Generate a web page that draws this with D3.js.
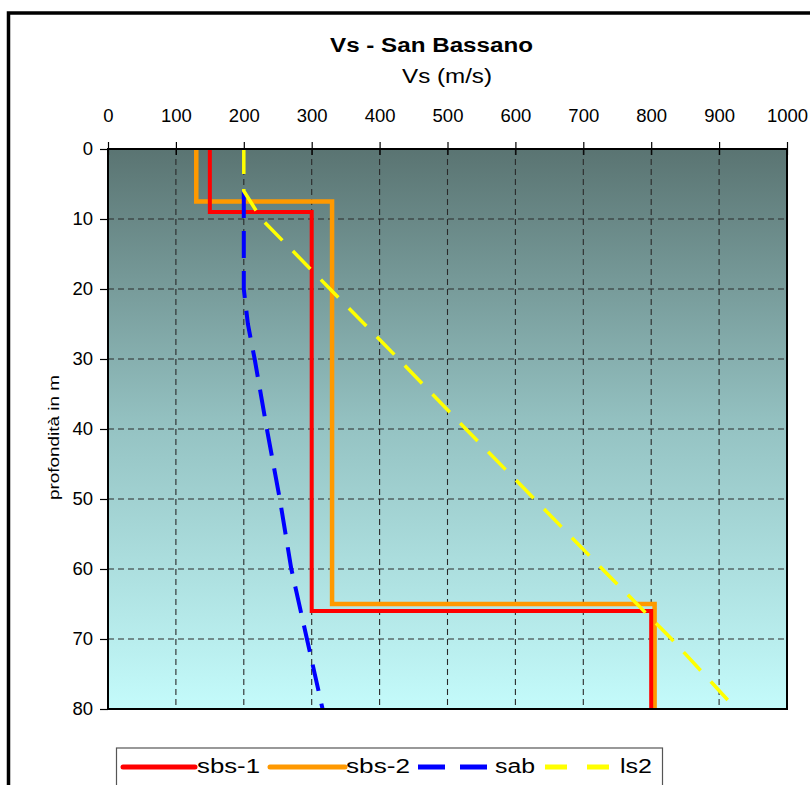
<!DOCTYPE html>
<html>
<head>
<meta charset="utf-8">
<script src="https://cdn.jsdelivr.net/npm/d3@7"></script>
<style>
  html, body { margin: 0; padding: 0; background: #ffffff; }
  svg { display: block; }
  text { font-family: "Liberation Sans", Arial, sans-serif; }
</style>
</head>
<body>
<svg id="chart" width="810" height="785"></svg>
<script>
// ---- data ----
const xTicks = [0, 100, 200, 300, 400, 500, 600, 700, 800, 900, 1000];
const yTicks = [0, 10, 20, 30, 40, 50, 60, 70, 80];

const sbs1Depth = [0, 9, 9, 66, 66, 80];
const sbs1Vs    = [150, 150, 300, 300, 800, 800];

const sbs2Depth = [0, 7.5, 7.5, 65, 65, 80];
const sbs2Vs    = [130, 130, 330, 330, 805, 805];

const sabDepth = [6, 20, 25, 30, 40, 50, 60, 70, 80];
const sabVs    = [200, 200, 206, 216, 234, 253, 270, 293, 316];

const ls2Depth = [0, 6, 10, 20, 30, 40, 50, 60, 70, 80];
const ls2Vs    = [200, 200, 226, 327, 428, 527, 628, 728, 830, 925];

const seriesNames = ["sbs-1", "sbs-2", "sab", "ls2"];

// ---- layout ----
const svg = d3.select("#chart");
const L = 108, R = 787, T = 149, B = 709;
const x = d3.scaleLinear().domain([0, 1000]).range([L, R]);
const y = d3.scaleLinear().domain([0, 80]).range([T, B]);

// outer frame
svg.append("rect").attr("x", 8.5).attr("y", 13).attr("width", 900).attr("height", 900)
  .attr("fill", "none").attr("stroke", "#000").attr("stroke-width", 3.5);

// gradient
const defs = svg.append("defs");
const grad = defs.append("linearGradient").attr("id", "bg").attr("x1", 0).attr("y1", 0).attr("x2", 0).attr("y2", 1);
grad.append("stop").attr("offset", "0%").attr("stop-color", "#5a7472");
grad.append("stop").attr("offset", "50%").attr("stop-color", "#95c3c3");
grad.append("stop").attr("offset", "100%").attr("stop-color", "#c4fbfb");

svg.append("rect").attr("x", L).attr("y", T).attr("width", R - L).attr("height", B - T)
  .attr("fill", "url(#bg)");

// grid
const grid = svg.append("g").attr("stroke", "#2a2a2a").attr("stroke-width", 1.1).attr("stroke-dasharray", "6,4");
grid.selectAll("line.v").data(xTicks.slice(1, -1)).join("line")
  .attr("x1", d => x(d)).attr("x2", d => x(d)).attr("y1", T).attr("y2", B);
grid.selectAll("line.h").data(yTicks.slice(1, -1)).join("line")
  .attr("x1", L).attr("x2", R).attr("y1", d => y(d)).attr("y2", d => y(d));

// axes
const topAxis = svg.append("g").attr("transform", `translate(0,${T})`)
  .call(d3.axisTop(x).tickValues(xTicks).tickSize(7).tickPadding(20).tickFormat(d3.format("d")));
const topInner = svg.append("g").attr("transform", `translate(0,${T})`)
  .call(d3.axisTop(x).tickValues(xTicks).tickSize(-6).tickFormat(""));
const leftAxis = svg.append("g").attr("transform", `translate(${L},0)`)
  .call(d3.axisLeft(y).tickValues(yTicks).tickSize(8).tickPadding(7).tickFormat(d3.format("d")));
[topAxis, topInner, leftAxis].forEach(g => {
  g.select(".domain").remove();
  g.selectAll(".tick line").attr("stroke", "#000").attr("stroke-width", 1.2);
  g.selectAll("text").attr("font-size", 18.5).attr("fill", "#000")
    .attr("font-family", "'Liberation Sans', Arial, sans-serif");
});

// series
const line = d3.line().x(d => x(d[1])).y(d => y(d[0]));
const zip = (a, b) => a.map((v, i) => [v, b[i]]);

const series = [
  { name: seriesNames[1], pts: zip(sbs2Depth, sbs2Vs), color: "#ff9900", w: 4.5, dash: null },
  { name: seriesNames[0], pts: zip(sbs1Depth, sbs1Vs), color: "#ff0000", w: 4, dash: null },
  { name: seriesNames[2], pts: zip(sabDepth, sabVs), color: "#0000ff", w: 4, dash: "27,13" },
  { name: seriesNames[3], pts: zip(ls2Depth, ls2Vs), color: "#ffff00", w: 3.5, dash: "25,15" }
];
series.forEach(s => {
  svg.append("path").attr("d", line(s.pts)).attr("fill", "none")
    .attr("stroke", s.color).attr("stroke-width", s.w)
    .attr("stroke-linejoin", "miter")
    .attr("stroke-dasharray", s.dash);
});

// plot border
svg.append("rect").attr("x", L).attr("y", T).attr("width", R - L).attr("height", B - T)
  .attr("fill", "none").attr("stroke", "#000").attr("stroke-width", 2);

// titles
svg.append("text").attr("x", 330).attr("y", 51.5).attr("font-size", 20).attr("font-weight", "bold")
  .attr("textLength", 203).attr("lengthAdjust", "spacingAndGlyphs").text("Vs - San Bassano");
svg.append("text").attr("x", 402).attr("y", 83).attr("font-size", 19.5)
  .attr("textLength", 90).attr("lengthAdjust", "spacingAndGlyphs").text("Vs (m/s)");
svg.append("text").attr("transform", "translate(59,500) rotate(-90)").attr("font-size", 15)
  .attr("textLength", 125).attr("lengthAdjust", "spacingAndGlyphs").text("profondità in m");

// legend
svg.append("rect").attr("x", 116.5).attr("y", 748).attr("width", 546).attr("height", 60)
  .attr("fill", "#fff").attr("stroke", "#555").attr("stroke-width", 1.2);
const legItems = [
  { name: seriesNames[0], color: "#ff0000", w: 5, dash: null, lx: 123, lw: 72, tx: 197, tw: 63 },
  { name: seriesNames[1], color: "#ff9900", w: 5, dash: null, lx: 270, lw: 75, tx: 346, tw: 64 },
  { name: seriesNames[2], color: "#0000ff", w: 5, dash: "27,15", lx: 418, lw: 69, tx: 495, tw: 40 },
  { name: seriesNames[3], color: "#ffff00", w: 5, dash: "22,20", lx: 545, lw: 68, tx: 620, tw: 32 }
];
legItems.forEach(it => {
  svg.append("line").attr("x1", it.lx).attr("x2", it.lx + it.lw).attr("y1", 767).attr("y2", 767)
    .attr("stroke", it.color).attr("stroke-width", it.w).attr("stroke-linecap", it.dash ? "butt" : "round")
    .attr("stroke-dasharray", it.dash);
  svg.append("text").attr("x", it.tx).attr("y", 772.5).attr("font-size", 19.5)
    .attr("textLength", it.tw).attr("lengthAdjust", "spacingAndGlyphs").text(it.name);
});
</script>
</body>
</html>
